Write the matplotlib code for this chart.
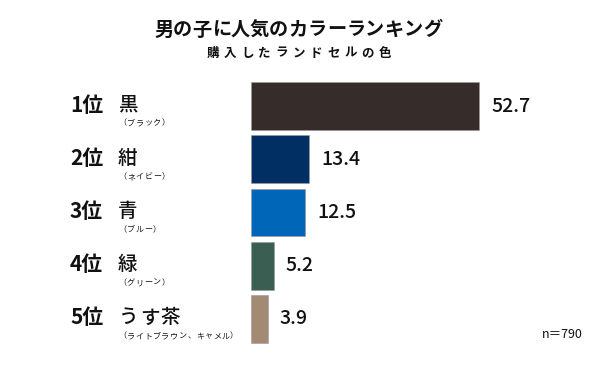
import matplotlib
matplotlib.use("Agg")
import matplotlib.pyplot as plt

plt.rcParams['font.family'] = ['Noto Sans CJK JP', 'DejaVu Sans']

ranks = ["1位", "2位", "3位", "4位", "5位"]
names = ["黒", "紺", "青", "緑", "うす茶"]
subs = ["（ブラック）", "（ネイビー）", "（ブルー）", "（グリーン）", "（ライトブラウン、キャメル）"]
values = [52.7, 13.4, 12.5, 5.2, 3.9]
colors = ["#362d2a", "#012e63", "#0066b8", "#3a5f52", "#a38a73"]
title = "男の子に人気のカラーランキング"
subtitle = "購入したランドセルの色"
note = "n＝790"

W, H = 600, 370
fig = plt.figure(figsize=(W / 100, H / 100), dpi=100)
fig.patch.set_facecolor("white")

# axes placement in pixels
x0, x1 = 251, 600
ytop, ybot = 79.5, 345.5
ax = fig.add_axes([x0 / W, 1 - ybot / H, (x1 - x0) / W, (ybot - ytop) / H])
ax.set_xlim(0, (x1 - x0) / 4.33)
ax.set_ylim(len(values) - 0.5, -0.5)
ax.axis("off")

ypos = list(range(len(values)))
ax.barh(ypos, values, height=0.9, color=colors, edgecolor="#9a9a9a", linewidth=0.4)

for i, v in enumerate(values):
    ax.annotate(f"{v}", xy=(v, i), xytext=(12, 0), textcoords="offset pixels",
                ha="left", va="center", fontsize=14, fontweight="medium", color="#111111")

# helper for letter-spaced text in figure pixel coords
def spaced(x, y, s, pitch, size, weight="normal", align="left"):
    n = len(s)
    if align == "center":
        x = x - pitch * n / 2
    for k, ch in enumerate(s):
        fig.text((x + pitch * (k + 0.5)) / W, 1 - y / H, ch, ha="center", va="center",
                 fontsize=size, fontweight=weight, color="#111111")

# titles
spaced(298, 30, title, 19.2, 13.8, weight="bold", align="center")
spaced(299, 53, subtitle, 17.2, 9, weight="bold", align="center")

# row labels
pitch_px = (ybot - ytop) / len(values)
for i in range(len(values)):
    yc = ytop + pitch_px * (i + 0.5)
    fig.text(70 / W, 1 - (yc - 1) / H, ranks[i], ha="left", va="center",
             fontsize=15, fontweight="bold", color="#111111")
    spaced(118, yc - 1, names[i], 21 if len(names[i]) > 1 else 19, 14, weight="medium")
    spaced(118, yc + 17, subs[i], 8.6, 5.8)

fig.text(583 / W, 1 - 335 / H, note, ha="right", va="center", fontsize=9,
         color="#111111")

fig.savefig("out.png", dpi=100, facecolor="white")
